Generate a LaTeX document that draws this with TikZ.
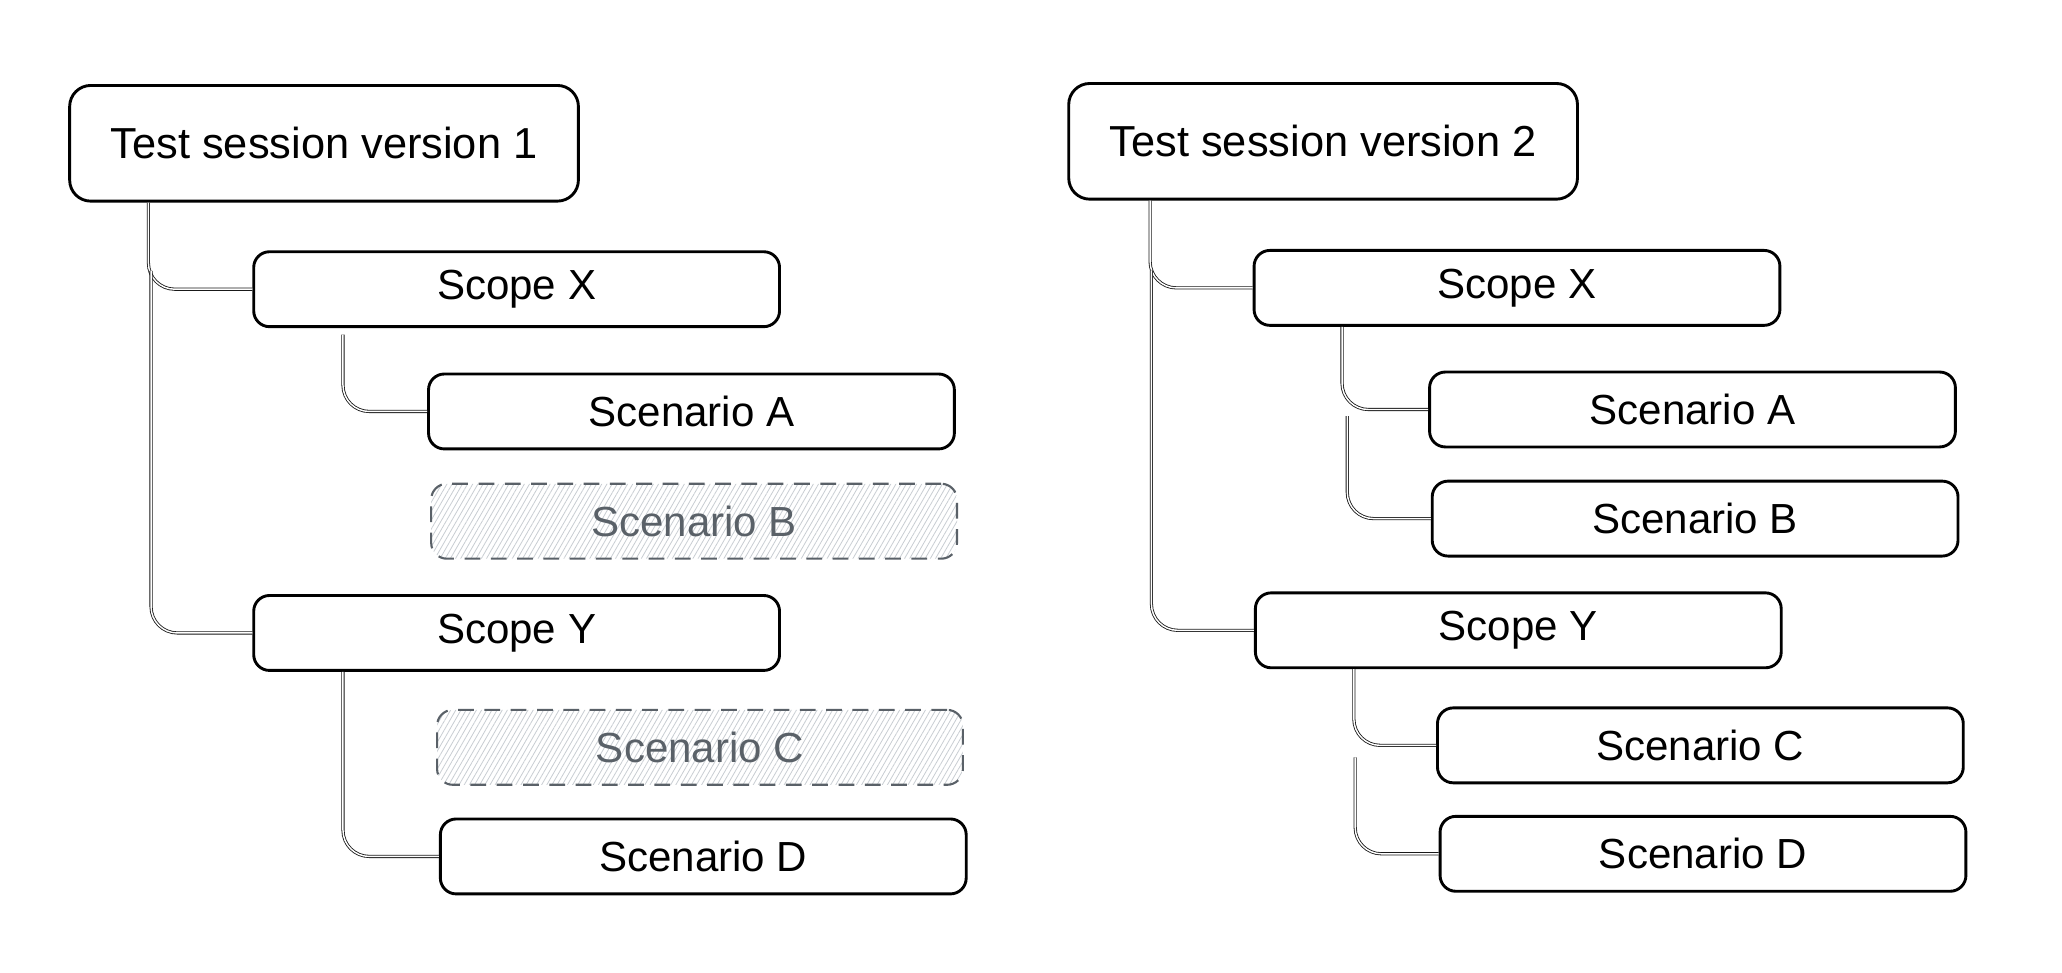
\documentclass[tikz,border=0pt]{standalone}
\usepackage{fontspec}
\setmainfont{Liberation Sans}
\usetikzlibrary{patterns.meta,calc}
\definecolor{dashgray}{HTML}{5A6168}
\definecolor{hatchgray}{HTML}{C8CDD2}
\tikzset{
  box/.style={draw=black, line width=1.1pt, rounded corners=6pt, fill=white,
    minimum width=200pt, minimum height=28.5pt, inner sep=0pt,
    font=\fontsize{16}{18}\selectfont, text=black},
  titlebox/.style={box, rounded corners=8pt, minimum width=193.5pt, minimum height=44pt,
    font=\fontsize{16.5}{19}\selectfont},
  skipbox/.style={box, draw=dashgray, line width=0.8pt, dash pattern=on 6pt off 4pt,
    text=dashgray, fill=none,
    preaction={fill=white},
    pattern={Lines[angle=60,distance=1.7pt,line width=0.3pt]}, pattern color=hatchgray},
  conn/.style={draw=black!90, line width=0.32pt, double=white, double distance=0.55pt,
    rounded corners=10pt}
}
\begin{document}
\begin{tikzpicture}[x=0.5pt,y=-0.5pt]
\useasboundingbox (0,0) rectangle (1568.6,739.5);
% left
\node[titlebox] (t1) at (246.5,109) {Test session version 1};
\node[box] (lsx) at (393,220) {Scope X};
\node[box] (lsa) at (526,313) {Scenario A};
\node[skipbox] (lsb) at (528,396.5) {Scenario B};
\node[box] (lsy) at (393,481.5) {Scope Y};
\node[skipbox] (lsc) at (532.5,568.5) {Scenario C};
\node[box] (lsd) at (535,651.5) {Scenario D};
% right
\node[titlebox] (t2) at (1006.5,107.5) {Test session version 2};
\node[box] (rsx) at (1154,219) {Scope X};
\node[box] (rsa) at (1287.5,311.5) {Scenario A};
\node[box] (rsb) at (1289.5,394.5) {Scenario B};
\node[box] (rsy) at (1155,479.5) {Scope Y};
\node[box] (rsc) at (1293.5,567) {Scenario C};
\node[box] (rsd) at (1295.5,649.5) {Scenario D};
% left connectors
\coordinate (l2) at ($(t1.south west)+(63,52)$);
\draw[conn] ($(t1.south west)+(61,0)$) |- (lsx.west);
\draw[conn] (l2) |- (lsy.west);
\draw[conn] ($(lsx.south west)+(69,5)$) |- (lsa.west);
\draw[conn] ($(lsy.south west)+(69,0)$) |- (lsd.west);
% right connectors
\coordinate (r2) at ($(t2.south west)+(64,53)$);
\coordinate (r4) at ($(rsx.south west)+(72,68)$);
\coordinate (r6) at ($(rsy.south west)+(77,67)$);
\draw[conn] ($(t2.south west)+(63,0)$) |- (rsx.west);
\draw[conn] (r2) |- (rsy.west);
\draw[conn] ($(rsx.south west)+(68,0)$) |- (rsa.west);
\draw[conn] (r4) |- (rsb.west);
\draw[conn] ($(rsy.south west)+(76,0)$) |- (rsc.west);
\draw[conn] (r6) |- (rsd.west);
\end{tikzpicture}
\end{document}
